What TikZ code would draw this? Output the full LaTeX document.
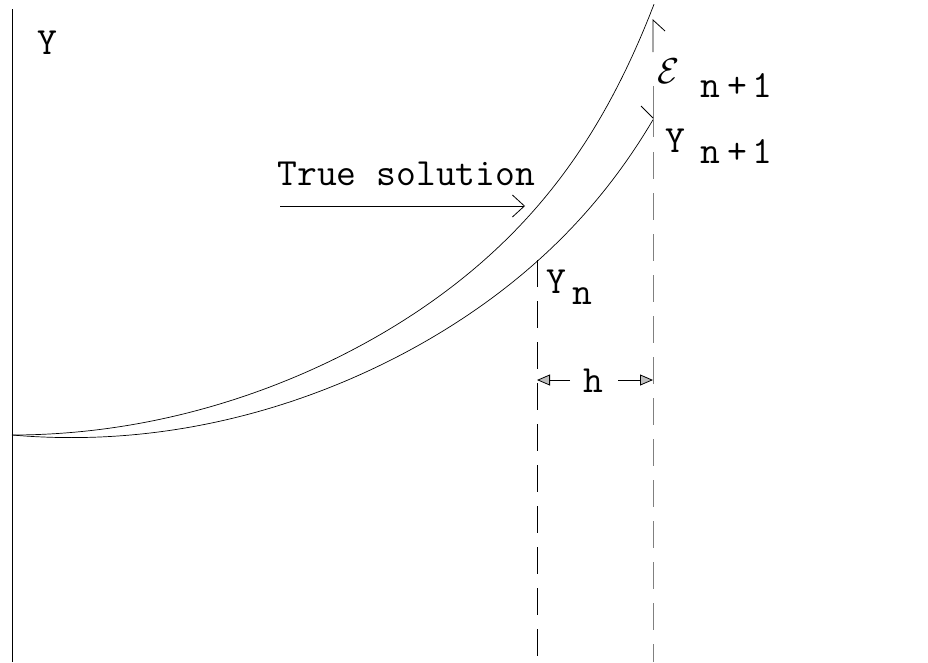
\documentclass[tikz,border=0pt]{standalone}
\usepackage{graphicx}
\usetikzlibrary{arrows.meta}
\begin{document}
\begin{tikzpicture}[x=1pt,y=-1pt,line width=0.8pt,
  lbl/.style={font=\fontsize{38.5}{42}\selectfont\ttfamily,inner sep=0pt,anchor=base west},
  dimarrow/.style={-{Triangle[length=13pt,width=11pt,fill=gray!50]}},
  openarrow/.style={-{Straight Barb[length=12pt,width=22pt]}},
  gridline/.style={dash pattern=on 27pt off 14pt},
  curve/.style={line width=0.7pt}]
\useasboundingbox (0,0) rectangle (928,662);
% axis
\coordinate (axTop) at (12,9);
\coordinate (axBot) at (12,662);
\draw (axTop) -- (axBot);
\node[lbl] (ylab) at (37,54) {Y};
% curves
\draw[curve] plot[domain=0:642,samples=140,variable=\u]
  ({12+\u},{435-(0.000703*\u*\u+0.0641*(exp(0.012*\u)-1))});
\draw[curve] plot[domain=0:641,samples=140,variable=\u]
  ({12+\u},{435-(0.000739*\u*\u-0.0877*\u+0.0343*(exp(0.0119*\u)-1))});
% vertical lines
\coordinate (lTop) at (537,260);
\coordinate (lBot) at (537,662);
\draw[gridline] (lTop) -- (lBot);
\coordinate (rA) at (653,86);
\coordinate (rB) at (653,137);
\coordinate (rC) at (653,152);
\coordinate (rBot) at (653,662);
\draw[gray] (rA) -- (rB);
\draw[gray,gridline] (rC) -- (rBot);
% epsilon arrow
\coordinate (eTop) at (653,20);
\coordinate (eLow) at (653,52);
\coordinate (eBarb) at (665,31);
\coordinate (yTip) at (653,118);
\coordinate (yBarb) at (641,106);
\draw (eLow) -- (eTop) -- (eBarb);
\draw (yBarb) -- (yTip);
\node[inner sep=0pt,anchor=base west] (eps) at (657,83) {\scalebox{3.6}{$\mathcal{E}$}};
\node[lbl] (epsn) at (700,97) {n\kern7pt+\kern5pt1};
\node[lbl] (ynp) at (665,152) {Y};
\node[lbl] (ynpn) at (700,163) {n\kern7pt+\kern5pt1};
\node[lbl] (yn) at (546,293) {Y};
\node[lbl] (ynn) at (572,304) {n};
% h dimension
\node[lbl] (h) at (583,392) {h};
\coordinate (hL1) at (570,380);
\coordinate (hL2) at (537,380);
\coordinate (hR1) at (618,380);
\coordinate (hR2) at (653,380);
\draw[dimarrow] (hL1) -- (hL2);
\draw[dimarrow] (hR1) -- (hR2);
% true solution
\node[lbl] (ts) at (277,185) {True solution};
\coordinate (tsA) at (280,206);
\coordinate (tsB) at (525,206);
\draw[openarrow] (tsA) -- (tsB);
\end{tikzpicture}
\end{document}
